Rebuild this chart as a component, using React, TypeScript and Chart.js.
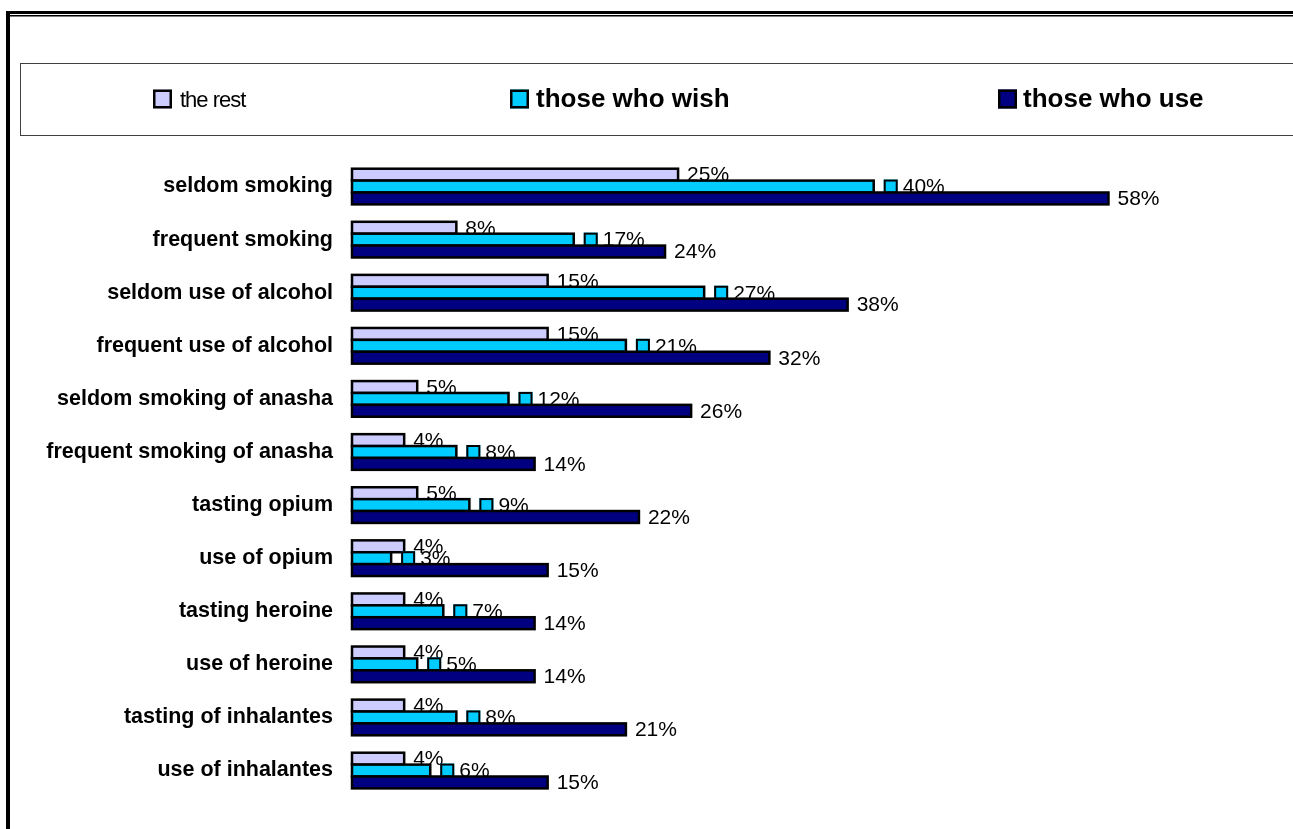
import React, { useEffect, useRef } from "react";
import { Chart, registerables } from "chart.js";

Chart.register(...registerables);

const categories = [
  "seldom smoking",
  "frequent smoking",
  "seldom use of alcohol",
  "frequent use of alcohol",
  "seldom smoking of anasha",
  "frequent smoking of anasha",
  "tasting opium",
  "use of opium",
  "tasting heroine",
  "use of heroine",
  "tasting of inhalantes",
  "use of inhalantes",
];
const seriesNames = ["the rest", "those who wish", "those who use"];
const theRest = [25, 8, 15, 15, 5, 4, 5, 4, 4, 4, 4, 4];
const thoseWhoWish = [40, 17, 27, 21, 12, 8, 9, 3, 7, 5, 8, 6];
const thoseWhoUse = [58, 24, 38, 32, 26, 14, 22, 15, 14, 14, 21, 15];
const seriesColors = ["#CCCCFF", "#00CCFF", "#000080"];

const FONT = '"Liberation Sans", Arial, sans-serif';

const framePlugin = {
  id: "frame",
  afterDraw(chart: any) {
    const ctx = chart.ctx as CanvasRenderingContext2D;
    const W = chart.width;
    const H = chart.height;
    ctx.save();
    // outer frame (double top line, thick left line)
    ctx.fillStyle = "#000";
    ctx.fillRect(6, 11, W, 3);
    ctx.fillRect(10, 15, W, 1.5);
    ctx.fillRect(6, 11, 4, H);
    // legend box
    ctx.strokeStyle = "#404040";
    ctx.lineWidth = 1;
    ctx.strokeRect(20.5, 63.5, W + 20, 72);
    // legend items
    const keyX = [153, 510, 998];
    const textX = [180, 536, 1023];
    const cy = 99;
    ctx.textBaseline = "middle";
    ctx.textAlign = "left";
    seriesNames.forEach((name, i) => {
      ctx.fillStyle = seriesColors[i];
      ctx.fillRect(keyX[i], cy - 9.5, 19, 19);
      ctx.strokeStyle = "#000";
      ctx.lineWidth = 2.5;
      ctx.strokeRect(keyX[i] + 1.25, cy - 8.25, 16.5, 16.5);
      ctx.fillStyle = "#000";
      if (i === 0) {
        ctx.font = "22px " + FONT;
        const anyCtx = ctx as any;
        if ("letterSpacing" in anyCtx) {
          anyCtx.letterSpacing = "-1px";
          ctx.fillText(name, textX[i], cy + 2);
          anyCtx.letterSpacing = "0px";
        } else {
          const w = ctx.measureText(name).width;
          ctx.save();
          ctx.translate(textX[i], cy + 2);
          ctx.scale(66 / w, 1);
          ctx.fillText(name, 0, 0);
          ctx.restore();
        }
      } else {
        ctx.font = "bold 26px " + FONT;
        ctx.fillText(name, textX[i], cy + 1);
      }
    });
    ctx.restore();
  },
};

const labelPlugin = {
  id: "valueLabels",
  afterDatasetsDraw(chart: any) {
    const ctx = chart.ctx as CanvasRenderingContext2D;
    ctx.save();
    ctx.font = "21px " + FONT;
    ctx.textBaseline = "middle";
    ctx.textAlign = "left";
    [0, 1, 2].forEach((i) => {
      const meta = chart.getDatasetMeta(i);
      // fill bars of this series (covering labels of previous series), then outline centred on edges
      meta.data.forEach((el: any) => el.draw(ctx));
      ctx.strokeStyle = "#000";
      ctx.lineWidth = 2.5;
      meta.data.forEach((el: any) => {
        const { x, y, base, height } = el.getProps(["x", "y", "base", "height"], true);
        ctx.strokeRect(base, y - height / 2, x - base, height);
      });
      const values = chart.data.datasets[i].data as number[];
      meta.data.forEach((el: any, j: number) => {
        const x = el.x;
        const y = el.y;
        let tx = x + 9;
        if (i === 1) {
          ctx.fillStyle = seriesColors[1];
          ctx.fillRect(x + 10, y - 7, 14, 14);
          ctx.strokeStyle = "#000";
          ctx.lineWidth = 2;
          ctx.strokeRect(x + 11, y - 6, 12, 12);
          tx = x + 29;
        }
        ctx.fillStyle = "#000";
        ctx.fillText(values[j] + "%", tx, y + 1);
      });
    });
    ctx.restore();
  },
};

export default function App() {
  const ref = useRef<HTMLCanvasElement | null>(null);
  useEffect(() => {
    document.body.style.margin = "0";
    const canvas = ref.current;
    if (!canvas) return;
    const datasets = [theRest, thoseWhoWish, thoseWhoUse].map((d, i) => ({
      label: seriesNames[i],
      data: d,
      backgroundColor: seriesColors[i],
      borderColor: "#000",
      borderWidth: 0,
      borderSkipped: false as const,
      barPercentage: 1,
      categoryPercentage: 0.672,
    }));
    const chart = new Chart(canvas, {
      type: "bar",
      data: { labels: categories, datasets },
      options: {
        indexAxis: "y",
        animation: false,
        responsive: false,
        devicePixelRatio: 1,
        layout: { padding: { left: 0, top: 160, right: 28, bottom: 26 } },
        plugins: {
          legend: { display: false },
          tooltip: { enabled: false },
        },
        scales: {
          x: { display: false, min: 0, max: 70 },
          y: {
            grid: { display: false, drawTicks: false },
            border: { display: false },
            ticks: {
              padding: 19,
              color: "#000",
              font: { family: FONT, size: 21.5, weight: "bold" },
            },
            afterFit: (scale: any) => {
              scale.width = 352;
            },
          },
        },
      },
      plugins: [labelPlugin, framePlugin],
    });
    return () => chart.destroy();
  }, []);
  return (
    <div style={{ width: 1293, height: 829, background: "#fff" }}>
      <canvas ref={ref} width={1293} height={829} style={{ display: "block" }} />
    </div>
  );
}
